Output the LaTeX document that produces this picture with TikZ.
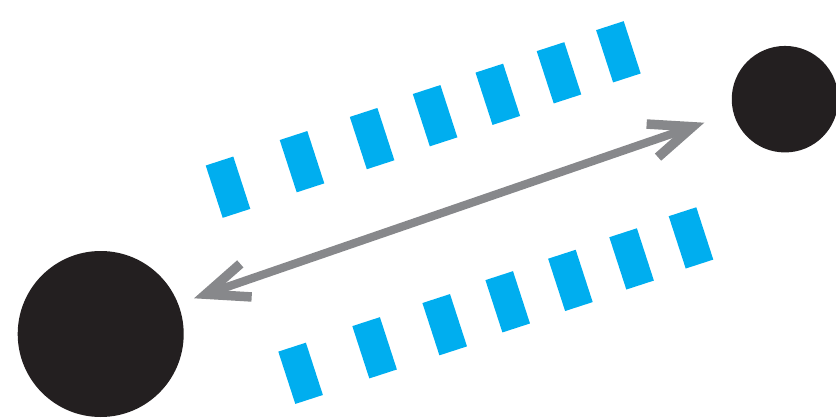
\documentclass[tikz,border=0pt]{standalone}
\usepackage{xcolor}
\usepackage{tikz}
\usetikzlibrary{arrows.meta}
\definecolor{bodyblack}{RGB}{35,31,32}
\definecolor{packetblue}{RGB}{0,174,239}
\definecolor{linkgray}{RGB}{135,136,139}

\begin{document}
\begin{tikzpicture}[
  >={Straight Barb[sharp, length=0.85cm, width=0.70cm, line width'=0.19cm]},
  % ---- node styles ----
  body/.style={
    circle, fill=bodyblack, draw=none, inner sep=0pt
  },
  packet/.style={
    rectangle, fill=packetblue, draw=none, inner sep=0pt,
    minimum width=0.58cm, minimum height=1.10cm,
    rotate=18
  },
  link/.style={
    draw=linkgray, line width=0.165cm, <->
  },
]
\useasboundingbox (0,0) rectangle (16.72,8.34);

% ---- Bodies ----
\node[body, minimum size=3.32cm] (big)   at (2.014, 1.660) {};
\node[body, minimum size=2.13cm] (small) at (15.70, 6.356) {};

% ---- Packets (upper row, lower row shifted) ----
\foreach \x/\y [count=\i] in {4.560/4.596, 6.040/5.106, 7.442/5.568, 8.702/6.026,
                              9.956/6.454, 11.180/6.884, 12.368/7.304} {
  \node[packet] (up\i) at (\x, \y) {};
  \node[packet] (dn\i) at (\x+1.452, \y-3.722) {};
}

% ---- Link between the bodies ----
\coordinate (tipL) at (3.880, 2.374);
\coordinate (tipR) at (14.086, 5.886);
\draw[link] (tipL) -- (tipR);

\end{tikzpicture}
\end{document}
